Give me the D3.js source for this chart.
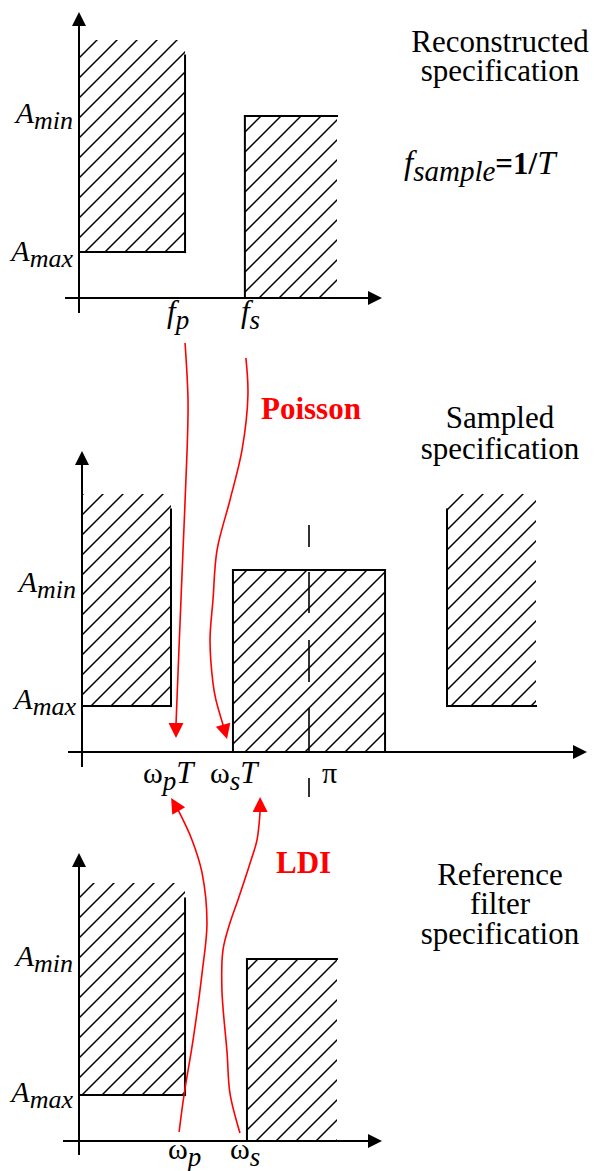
<!DOCTYPE html>
<html><head><meta charset="utf-8">
<script src="https://cdn.jsdelivr.net/npm/d3@7"></script>
<style>body{margin:0;background:#fff}svg{display:block}</style>
</head><body>
<script>
// ---------------- DATA ----------------
// normalized amplitude levels (0 = axis, 1 = top of hatched region)
const levelNames = ["max", "min"];
const levelValues = [0.178, 0.705];
const edgeStart = 0.94;

// hatched tolerance bands: panel index, frequency range, amplitude range, drawn borders
// panel 0: f normalized; panel 1: omega*T in units of pi; panel 2: omega normalized
const bandPanel = [0, 0, 1, 1, 1, 2, 2];
const bandX0    = [0, 0.643, 0, 0.665, 1.608, 0, 0.651];
const bandX1    = [0.411, 1.0, 0.392, 1.335, 2.0, 0.411, 1.0];
const bandLow   = [0.178, 0, 0.178, 0, 0.178, 0.178, 0];
const bandHigh  = [1, 0.705, 1, 0.705, 1, 1, 0.705];
const bandEdges = ["rb", "lt", "rb", "ltr", "lb", "rb", "lt"];

// frequency tick labels
const tickValues = [[0.411, 0.643], [0.392, 0.665, 1.0], [0.411, 0.651]];
const tickMain   = [["f", "f"], ["ω", "ω", "π"], ["ω", "ω"]];
const tickSub    = [["p", "s"], ["p", "s", ""], ["p", "s"]];
const tickTail   = [["", ""], ["T", "T", ""], ["", ""]];

// titles
const titleLines = [["Reconstructed", "specification"], ["Sampled", "specification"], ["Reference", "filter", "specification"]];

// mapping curves (panel coords), last point = arrow tip
const curvePanel = [1, 1, 2, 2];
const curveX = [
  [0.454, 0.467, 0.463, 0.445, 0.427, 0.414, 0.414],
  [0.722, 0.731, 0.705, 0.652, 0.595, 0.577, 0.564, 0.577, 0.590, 0.623, 0.639],
  [0.388, 0.407, 0.442, 0.477, 0.496, 0.477, 0.438, 0.384, 0.357],
  [0.624, 0.585, 0.574, 0.554, 0.558, 0.585, 0.616, 0.667, 0.690, 0.702, 0.702]
];
const curveY = [
  [1.585, 1.364, 1.171, 0.783, 0.395, 0.105, 0.054],
  [1.527, 1.384, 1.171, 0.977, 0.783, 0.589, 0.434, 0.267, 0.202, 0.101, 0.050],
  [0.035, 0.178, 0.391, 0.651, 0.845, 1.039, 1.167, 1.283, 1.329],
  [0.031, 0.186, 0.341, 0.585, 0.740, 0.845, 0.934, 1.089, 1.167, 1.279, 1.333]
];
const transformNames = ["Poisson", "LDI"];

// ---------------- LAYOUT ----------------
const W = 599, H = 1171;
const SERIF = '"Liberation Serif"';
const layout = [
  {ox: 79, oy: 298, xUnit: 258, xStart: 65, xTip: 382, yTip: 12, yBottom: 313,
   lblDy: [9, 7], tickDx: [-18, -4], tickBase: 322, titleY: [52, 81]},
  {ox: 82, oy: 752, xUnit: 227, xStart: 68, xTip: 587, yTip: 451, yBottom: 767,
   lblDy: [3, 22], tickDx: [-28, -23, 13], tickBase: 783, titleY: [428, 459]},
  {ox: 79, oy: 1141, xUnit: 258, xStart: 63, xTip: 382, yTip: 853, yBottom: 1155,
   lblDy: [7, 7], tickDx: [-17, -17], tickBase: 1159, titleY: [885, 914, 944]}
];
const yUnit = 258;
const xs = layout.map(L => d3.scaleLinear().domain([0, 1]).range([L.ox, L.ox + L.xUnit]));
const ys = layout.map(L => d3.scaleLinear().domain([0, 1]).range([L.oy, L.oy - yUnit]));

const svg = d3.select("body").append("svg").attr("width", W).attr("height", H);
function txt(sel, x, y, size) {
  return sel.append("text").attr("x", x).attr("y", y)
    .attr("font-family", "Liberation Serif")
    .style("font-family", SERIF, "important")
    .attr("font-size", size);
}

const defs = svg.append("defs");
const pat = defs.append("pattern").attr("id", "hatch").attr("patternUnits", "userSpaceOnUse")
  .attr("x", -3).attr("y", 0).attr("width", 20).attr("height", 20);
pat.append("path").attr("d", "M-5,5 L5,-5 M0,20 L20,0 M15,25 L25,15")
  .attr("stroke", "#000").attr("stroke-width", 1.5);

// ---------------- BANDS ----------------
bandPanel.forEach((p, i) => {
  const x = xs[p], y = ys[p];
  const g = svg.append("g");
  g.append("rect").attr("x", x(bandX0[i])).attr("y", y(bandHigh[i]))
    .attr("width", x(bandX1[i]) - x(bandX0[i])).attr("height", y(bandLow[i]) - y(bandHigh[i]))
    .attr("fill", "url(#hatch)");
  const edgeTop = Math.min(bandHigh[i], edgeStart);
  const segs = [];
  const e = bandEdges[i];
  if (e.includes("l")) segs.push([bandX0[i], edgeTop, bandX0[i], bandLow[i]]);
  if (e.includes("r")) segs.push([bandX1[i], edgeTop, bandX1[i], bandLow[i]]);
  if (e.includes("t")) segs.push([bandX0[i], bandHigh[i], bandX1[i], bandHigh[i]]);
  if (e.includes("b")) segs.push([bandX0[i], bandLow[i], bandX1[i], bandLow[i]]);
  g.selectAll("line").data(segs).join("line")
    .attr("x1", d => x(d[0])).attr("y1", d => y(d[1]))
    .attr("x2", d => x(d[2])).attr("y2", d => y(d[3]))
    .attr("stroke", "#000").attr("stroke-width", 2).attr("stroke-linecap", "square");
});

// pi marker (dashed) in sampled panel
svg.append("line").attr("x1", xs[1](1)).attr("x2", xs[1](1))
  .attr("y1", ys[1](0.88)).attr("y2", ys[1](-0.18))
  .attr("stroke", "#000").attr("stroke-width", 1.6)
  .attr("stroke-dasharray", "22,25,41,27,42,26,44,26,19");

// ---------------- AXES + LABELS ----------------
layout.forEach((L, p) => {
  const g = svg.append("g");
  g.append("line").attr("x1", L.xStart).attr("x2", L.xTip - 10).attr("y1", ys[p](0)).attr("y2", ys[p](0))
    .attr("stroke", "#000").attr("stroke-width", 2);
  g.append("line").attr("x1", xs[p](0)).attr("x2", xs[p](0)).attr("y1", L.yBottom).attr("y2", L.yTip + 10)
    .attr("stroke", "#000").attr("stroke-width", 2);
  const ax = L.xTip, ay = ys[p](0);
  g.append("path").attr("d", `M${ax},${ay} L${ax - 14},${ay - 7} L${ax - 14},${ay + 7} Z`).attr("fill", "#000");
  const bx = xs[p](0), by = L.yTip;
  g.append("path").attr("d", `M${bx},${by} L${bx - 7},${by + 14} L${bx + 7},${by + 14} Z`).attr("fill", "#000");

  // amplitude labels
  levelValues.forEach((v, k) => {
    const t = txt(g, xs[p](0) - 6, ys[p](v) + L.lblDy[k], 30)
      .attr("text-anchor", "end").style("font-style", "italic");
    t.append("tspan").text("A");
    t.append("tspan").attr("font-size", 26).attr("dy", 6).text(levelNames[k]);
  });

  // frequency tick labels
  tickValues[p].forEach((v, k) => {
    const main = tickMain[p][k];
    const t = txt(g, xs[p](v) + L.tickDx[k], L.tickBase, main === "f" ? 31 : 30);
    t.append("tspan").style("font-style", main === "f" ? "italic" : "normal").text(main);
    if (tickSub[p][k]) {
      t.append("tspan").attr("font-size", 27).style("font-style", "italic").attr("dy", 7).text(tickSub[p][k]);
    }
    if (tickTail[p][k]) {
      t.append("tspan").attr("font-size", 31).style("font-style", "italic").attr("dy", -7).text(tickTail[p][k]);
    }
  });

  // titles
  titleLines[p].forEach((s, k) => {
    txt(g, 500, L.titleY[k], 31).attr("text-anchor", "middle").text(s);
  });
});

// sampling frequency note
{
  const t = txt(svg, 404, 174, 33);
  t.append("tspan").style("font-style", "italic").text("f");
  t.append("tspan").attr("font-size", 29).style("font-style", "italic").attr("dy", 7).text("sample");
  t.append("tspan").attr("font-size", 31).style("font-weight", "bold").attr("dy", -7).text("=1/");
  t.append("tspan").style("font-style", "italic").text("T");
}

// ---------------- MAPPING CURVES ----------------
const line = d3.line().curve(d3.curveCatmullRom.alpha(0.5));
curvePanel.forEach((p, i) => {
  const pts = curveX[i].map((v, k) => [xs[p](v), ys[p](curveY[i][k])]);
  const tip = pts[pts.length - 1], base = pts[pts.length - 2];
  svg.append("path").attr("d", line(pts.slice(0, -1))).attr("fill", "none")
    .attr("stroke", "#ff0000").attr("stroke-width", 1.6);
  const dx = tip[0] - base[0], dy = tip[1] - base[1], len = Math.hypot(dx, dy);
  const ux = dx / len, uy = dy / len, hw = 7.5, hl = 15;
  const bx = tip[0] - ux * hl, by = tip[1] - uy * hl;
  svg.append("path")
    .attr("d", `M${tip[0]},${tip[1]} L${bx - uy * hw},${by + ux * hw} L${bx + uy * hw},${by - ux * hw} Z`)
    .attr("fill", "#ff0000");
});

txt(svg, 261, 419, 31).style("font-weight", "bold").attr("fill", "#ff0000").text(transformNames[0]);
txt(svg, 276, 873, 31).style("font-weight", "bold").attr("fill", "#ff0000").text(transformNames[1]);
</script>
</body></html>
